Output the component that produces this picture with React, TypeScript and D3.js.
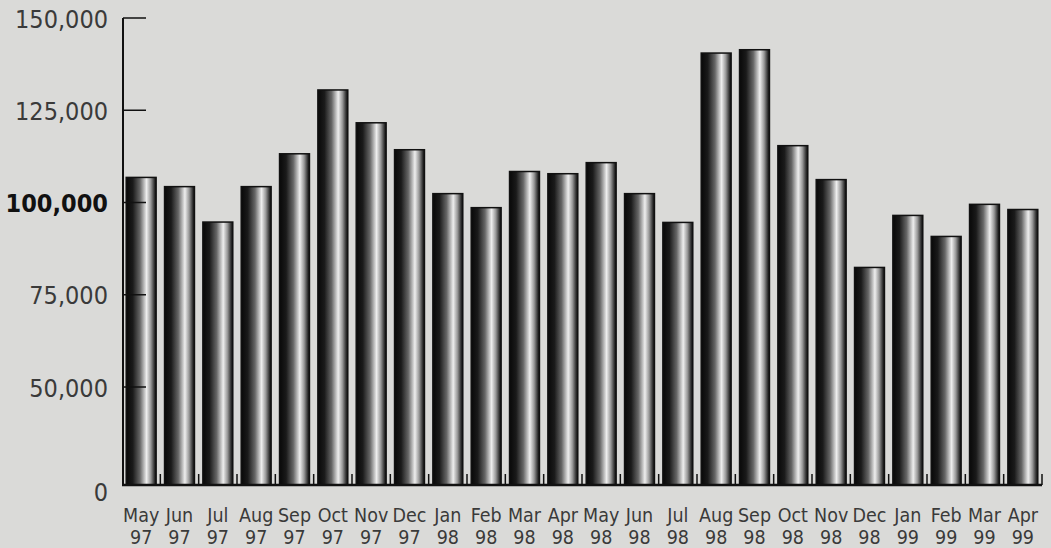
import React from "react";
import * as d3 from "d3";

const months = ["May","Jun","Jul","Aug","Sep","Oct","Nov","Dec","Jan","Feb","Mar","Apr","May","Jun","Jul","Aug","Sep","Oct","Nov","Dec","Jan","Feb","Mar","Apr"];
const years = ["97","97","97","97","97","97","97","97","98","98","98","98","98","98","98","98","98","98","98","98","99","99","99","99"];
const values = [106800,104300,94700,104300,113200,130500,121600,114300,102400,98600,108400,107800,110800,102400,94600,140500,141400,115400,106200,82400,96500,90800,99500,98100];
const yTicks = [0, 50000, 75000, 100000, 125000, 150000];

const W = 1051, H = 548;
const X0 = 122, X1 = 1042;

export default function App() {
  const keys = months.map((m, i) => `${m} ${years[i]}`);
  const x = d3.scaleBand<string>().domain(keys).range([X0, X1]).paddingInner(0.22).paddingOuter(0.11);
  const y = d3.scaleLinear().domain([0, 50000, 150000]).range([485, 387, 18]);
  const step = x.step();
  const fmt = d3.format(",");
  const font = "'DejaVu Sans Condensed', 'DejaVu Sans', sans-serif";

  return (
    <svg width={W} height={H} style={{ position: "absolute", left: 0, top: 0, display: "block" }}>
      <defs>
        <linearGradient id="cyl" x1="0" x2="1" y1="0" y2="0">
          <stop offset="0" stopColor="#080808" />
          <stop offset="0.22" stopColor="#1a1a1a" />
          <stop offset="0.46" stopColor="#666" />
          <stop offset="0.68" stopColor="#eeeeee" />
          <stop offset="0.82" stopColor="#9a9a9a" />
          <stop offset="0.95" stopColor="#2a2a2a" />
          <stop offset="1" stopColor="#111" />
        </linearGradient>
      </defs>
      <rect x={0} y={0} width={W} height={H} fill="#dadad8" />
      {values.map((v, i) => (
        <rect key={i} x={x(keys[i])!} y={y(v)} width={x.bandwidth()} height={y(0) - y(v)}
          fill="url(#cyl)" stroke="#111" strokeWidth={1.5} />
      ))}
      <line x1={X0} x2={X1} y1={y(0)} y2={y(0)} stroke="#111" strokeWidth={2.5} />
      {keys.map((k, i) => {
        const tx = X0 + (i + 1) * step;
        return <line key={k} x1={tx} x2={tx} y1={y(0)} y2={y(0) - 11} stroke="#111" strokeWidth={1.5} />;
      })}
      <line x1={X0 + 1} x2={X0 + 1} y1={y(150000)} y2={y(0)} stroke="#111" strokeWidth={2} />
      {yTicks.filter(t => t > 0).map(t => (
        <line key={t} x1={X0 + 1} x2={X0 + 24} y1={y(t)} y2={y(t)} stroke="#111" strokeWidth={1.5} />
      ))}
      {yTicks.map(t => (
        <text key={t} x={108} y={t === 0 ? y(0) + 7 : y(t) + 1} textAnchor="end" dominantBaseline="central"
          fontFamily={font} fontSize={25} fontWeight={t === 100000 ? "bold" : "normal"}
          fill={t === 100000 ? "#111" : "#3a3a3a"}>
          {fmt(t)}
        </text>
      ))}
      {keys.map((k, i) => {
        const cx = x(k)! + x.bandwidth() / 2;
        return (
          <g key={k}>
            <text x={cx} y={522} textAnchor="middle" fontFamily={font} fontSize={19.5} fill="#3a3a3a">{months[i]}</text>
            <text x={cx} y={544} textAnchor="middle" fontFamily={font} fontSize={19.5} fill="#3a3a3a">{years[i]}</text>
          </g>
        );
      })}
    </svg>
  );
}
